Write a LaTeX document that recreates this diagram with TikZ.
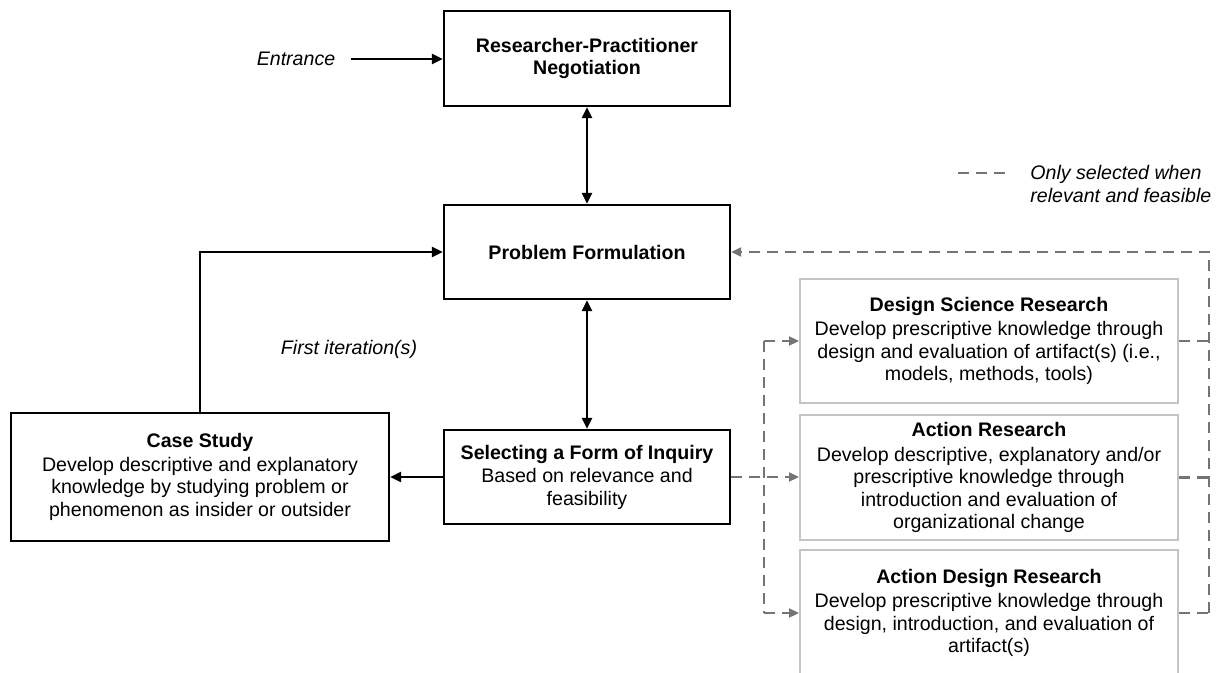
\documentclass[tikz,border=0pt]{standalone}
\usepackage{fontspec}
\setmainfont{Liberation Sans}
\usetikzlibrary{arrows.meta,calc}
\definecolor{dashgray}{HTML}{747474}
\definecolor{boxgray}{HTML}{C4C4C4}
\begin{document}
\begin{tikzpicture}[x=0.5pt,y=-0.5pt,
  every node/.style={font=\fontsize{9.8}{11.25}\selectfont, inner sep=0pt},
  mainbox/.style={draw=black, line width=1.2pt, align=center},
  optbox/.style={draw=boxgray, line width=1pt, align=center},
  arr/.style={line width=1.2pt, -{Triangle[length=5.5pt,width=5pt]}},
  arrtwo/.style={line width=1.2pt, {Triangle[length=5.5pt,width=5pt]}-{Triangle[length=5.5pt,width=5pt]}},
  dsh/.style={draw=dashgray, line width=1.1pt, dash pattern=on 5.5pt off 3.5pt},
  dsharr/.style={dsh, -{Triangle[length=5pt,width=4.5pt]}, dashgray}
]
\useasboundingbox (0,0) rectangle (1219,673);

% main boxes
\node[mainbox, minimum width=143pt, minimum height=47.5pt] (rpn) at (587,58.5)
  {\textbf{Researcher-Practitioner}\\\textbf{Negotiation}};
\node[mainbox, minimum width=143pt, minimum height=47pt] (pf) at (587,252)
  {\textbf{Problem Formulation}};
\node[mainbox, minimum width=143pt, minimum height=47pt] (sel) at (587,477)
  {\textbf{Selecting a Form of Inquiry}\\[0.5pt]Based on relevance and\\feasibility};
\node[mainbox, minimum width=189pt, minimum height=64pt] (cs) at (200,477)
  {\textbf{Case Study}\\[0.5pt]Develop descriptive and explanatory\\knowledge by studying problem or\\phenomenon as insider or outsider};

% optional boxes
\node[optbox, minimum width=189pt, minimum height=62pt] (dsr) at (989,341)
  {\textbf{Design Science Research}\\[1pt]Develop prescriptive knowledge through\\design and evaluation of artifact(s) (i.e.,\\models, methods, tools)};
\node[optbox, minimum width=189pt, minimum height=62.5pt] (ar) at (989,477.5)
  {\textbf{Action Research}\\[1pt]Develop descriptive, explanatory and/or\\prescriptive knowledge through\\introduction and evaluation of\\organizational change};
\node[optbox, minimum width=189pt, minimum height=63pt] (adr) at (989,613)
  {\textbf{Action Design Research}\\[1pt]Develop prescriptive knowledge through\\design, introduction, and evaluation of\\artifact(s)};

% labels
\node (ent) at (296,59) {\itshape Entrance};
\node (fi) at (349,349) {\itshape First iteration(s)};
\node[anchor=west, align=left] (leg) at (1030,184) {\itshape Only selected when\\\itshape relevant and feasible};
\coordinate (lg1) at (958,173);
\coordinate (lg2) at (1008,173);
\draw[dsh] (lg1) -- (lg2);

% solid connectors
\draw[arr] ([xshift=7.5pt]ent.east) -- (ent.east -| rpn.west);
\draw[arrtwo] (rpn.south) -- (pf.north);
\draw[arrtwo] (pf.south) -- (sel.north);
\draw[arr] (sel.west) -- (sel.west -| cs.east);
\draw[arr] (cs.north) |- (pf.west);

% dashed connectors (left)
\coordinate (L) at (764,477);
\draw[dsharr] (sel.east) -- (sel.east -| ar.west);
\draw[dsh] (dsr.west -| L) -- (adr.west -| L);
\draw[dsharr] (dsr.west -| L) -- (dsr.west);
\draw[dsharr] (adr.west -| L) -- (adr.west);

% dashed connectors (right)
\coordinate (R) at (1209,252);
\draw[dsh] (dsr.east) -- (dsr.east -| R);
\draw[dsh] (ar.east) -- (ar.east -| R);
\draw[dsh] (adr.east) -- (adr.east -| R);
\draw[dsharr] (adr.east -| R) -- (R) -- (pf.east);
\end{tikzpicture}
\end{document}
